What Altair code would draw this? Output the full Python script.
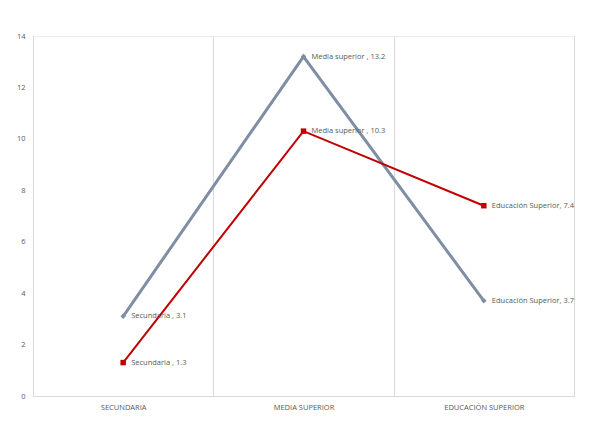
import altair as alt
import pandas as pd

categories = ["SECUNDARIA", "MEDIA SUPERIOR", "EDUCACIÓN SUPERIOR"]
point_names = ["Secundaria ", "Media superior ", "Educación Superior"]
series_a = [3.1, 13.2, 3.7]   # gray
series_b = [1.3, 10.3, 7.4]   # red

rows = []
for s, vals in (("A", series_a), ("B", series_b)):
    for c, n, v in zip(categories, point_names, vals):
        rows.append({"serie": s, "cat": c, "valor": v, "etiqueta": f"{n}, {v}"})
df = pd.DataFrame(rows)

x_enc = alt.X("cat:N", sort=categories, bandPosition=0.5,
              scale=alt.Scale(type="band", paddingInner=0, paddingOuter=0),
              axis=alt.Axis(title=None, labelAngle=0, tickBand="extent", grid=True,
                            gridColor="#dadada", domainColor="#d9d9d9", ticks=False,
                            labelFontSize=7.5, labelColor="#595959", labelPadding=7,
                            labelFont="Open Sans"))
y_enc = alt.Y("valor:Q", scale=alt.Scale(domain=[0, 14], nice=False),
              axis=alt.Axis(title=None, values=list(range(0, 15, 2)), grid=False, ticks=False,
                            domainColor="#d9d9d9", labelFontSize=7.5, labelColor="#595959",
                            labelPadding=8, labelFont="Open Sans"))

base = alt.Chart(df)

gray = base.transform_filter("datum.serie == 'A'").mark_line(
    color="#7f8ea3", strokeWidth=3,
    point=alt.OverlayMarkDef(shape="diamond", size=30, color="#7f8ea3", filled=True)
).encode(x=x_enc, y=y_enc)

red = base.transform_filter("datum.serie == 'B'").mark_line(
    color="#c00000", strokeWidth=2,
    point=alt.OverlayMarkDef(shape="square", size=30, color="#c00000", filled=True)
).encode(x=x_enc, y=y_enc)

labels = base.mark_text(align="left", baseline="middle", dx=8, fontSize=7.5,
                        color="#595959", font="Open Sans").encode(
    x=x_enc, y=y_enc, text="etiqueta:N")

chart = alt.layer(gray, red, labels).properties(
    width=541, height=360,
    autosize=alt.AutoSizeParams(type="none"),
    padding={"left": 25, "top": 28, "right": 12, "bottom": 30},
).configure_view(stroke="#ebebeb")

chart.save("out.html", embed_options={"renderer": "svg", "actions": False})
